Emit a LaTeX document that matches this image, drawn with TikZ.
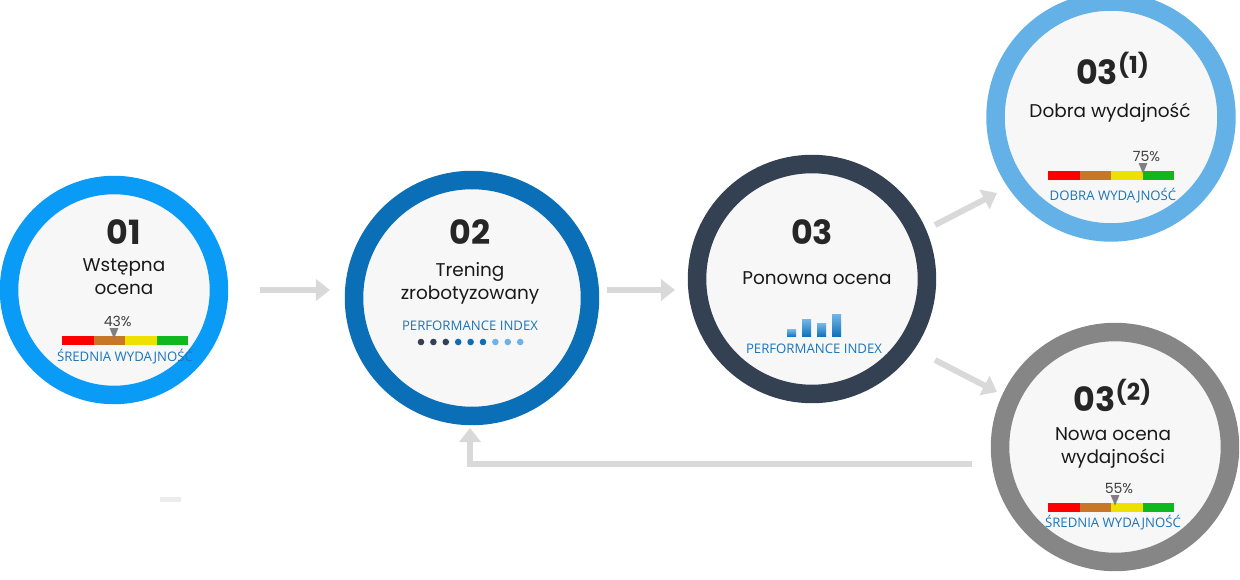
\documentclass[tikz,border=0pt]{standalone}
\usepackage{fontspec}
\setmainfont{Poppins}
\newfontfamily\labelfont{Open Sans}
\usetikzlibrary{arrows.meta,positioning,shapes.geometric}
\definecolor{ringA}{HTML}{0A9BF7}
\definecolor{ringB}{HTML}{0B6FB8}
\definecolor{ringC}{HTML}{344152}
\definecolor{ringD}{HTML}{63B1E6}
\definecolor{ringE}{HTML}{868686}
\definecolor{idxblue}{HTML}{1A75BC}
\definecolor{lightdot}{HTML}{6FB3E6}
\definecolor{flowgray}{HTML}{D9D9D9}
\definecolor{bgfill}{HTML}{F7F7F7}
\definecolor{gaugeorange}{HTML}{C87628}
\definecolor{gaugeyellow}{HTML}{EEE000}
\definecolor{gaugegreen}{HTML}{10B820}

% gauge bar: #1 left x, #2 y (pixels), #3 marker x, #4 percent
\newcommand{\gaugebar}[4]{%
  \fill[red] (#1,#2) rectangle ++(31.5,9);
  \fill[gaugeorange] (#1+31.5,#2) rectangle ++(31.5,9);
  \fill[gaugeyellow] (#1+63,#2) rectangle ++(31.5,9);
  \fill[gaugegreen] (#1+94.5,#2) rectangle ++(31.5,9);
  \node[marker] at (#3,#2-5) {};
  \node[pct, anchor=south west, xshift=-6pt] at (#3,#2-9) {#4\%};
}

\begin{document}
\begin{tikzpicture}[
    x=0.02cm, y=-0.02cm,
    ring/.style={circle, draw, fill=bgfill, line width=0.37cm, inner sep=0pt},
    num/.style={font=\fontsize{19}{19}\selectfont\bfseries, text=black!85},
    title/.style={font=\fontsize{10.5}{13}\selectfont, text=black!90, align=center},
    tag/.style={font=\labelfont\fontsize{7.5}{8}\selectfont, text=idxblue},
    pct/.style={font=\fontsize{8}{8}\selectfont, text=black!75, inner sep=0pt},
    marker/.style={isosceles triangle, shape border rotate=-90, fill=gray, inner sep=0pt, minimum width=5pt, minimum height=4pt},
    flow/.style={draw=flowgray, line width=3.4pt, -{Triangle[length=8pt,width=12pt]}}
]
\useasboundingbox (0,0) rectangle (1240,580);

% Circles
\node[ring, draw=ringA, minimum size=4.2cm] (first) at (114,290) {};
\node[ring, draw=ringB, minimum size=4.72cm] (second) at (472,298) {};
\node[ring, draw=ringC, minimum size=4.6cm] (third) at (812,279) {};
\node[ring, draw=ringD, minimum size=4.62cm] (good) at (1111,117) {};
\node[ring, draw=ringE, minimum size=4.6cm] (retest) at (1115,447) {};

% Step 01
\node[num] (n-first) at (124,232) {01};
\node[title] (t-first) at (124,277) {Wstępna\\ocena};
\gaugebar{62}{336}{114}{43}
\node[tag] (g-first) at (125,357) {ŚREDNIA WYDAJNOŚĆ};

% Step 02
\node[num] (n-second) at (470,232) {02};
\node[title] (t-second) at (470,283) {Trening\\zrobotyzowany};
\node[tag] (i-second) at (470,326) {PERFORMANCE INDEX};
\foreach \k/\c in {0/ringC,1/ringC,2/ringC,3/ringB,4/ringB,5/ringB,6/lightdot,7/lightdot,8/lightdot}
  \fill[\c] (421+\k*12.4,342) circle (3.3);

% Step 03
\node[num] (n-third) at (812,232) {03};
\node[title] (t-third) at (817,278) {Ponowna ocena};
\foreach \k/\h in {0/7,1/17,2/13,3/22}
  \shade[top color=lightdot, bottom color=ringB] (787+\k*15,337) rectangle ++(9,-\h);
\node[tag] (i-third) at (814,349) {PERFORMANCE INDEX};

% Step 03 (1)
\node[num] (n-good) at (1113,68) {03\textsuperscript{(1)}};
\node[title] (t-good) at (1110,113) {Dobra wydajność};
\gaugebar{1048}{171}{1143}{75}
\node[tag] (g-good) at (1113,196) {DOBRA WYDAJNOŚĆ};

% Step 03 (2)
\node[num] (n-retest) at (1113,395) {03\textsuperscript{(2)}};
\node[title] (t-retest) at (1113,448) {Nowa ocena\\wydajności};
\gaugebar{1048}{503}{1115}{55}
\node[tag] (g-retest) at (1113,523) {ŚREDNIA WYDAJNOŚĆ};

% Connections
\coordinate (a1) at (260,290); \coordinate (a2) at (330,290);
\coordinate (b1) at (607,290); \coordinate (b2) at (675,290);
\coordinate (c1) at (935,225); \coordinate (c2) at (997,193);
\coordinate (d1) at (935,360); \coordinate (d2) at (997,392);
\coordinate (e1) at (972,464); \coordinate (e2) at (470,428);
\draw[flow] (a1) -- (a2);
\draw[flow] (b1) -- (b2);
\draw[flow] (c1) -- (c2);
\draw[flow] (d1) -- (d2);
\draw[flow] (e1) -- (e1 -| e2) -- (e2);

% small mark
\fill[flowgray!50] (160,497) rectangle (181,502);
\end{tikzpicture}
\end{document}
